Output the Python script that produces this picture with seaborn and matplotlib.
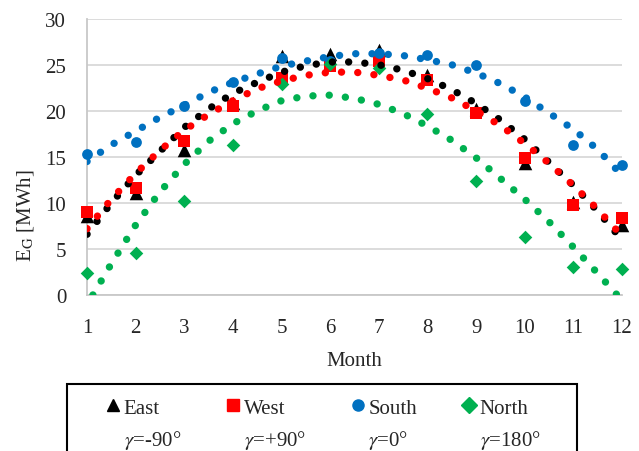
import seaborn as sns
import matplotlib.pyplot as plt
from matplotlib.lines import Line2D
from matplotlib.patches import Rectangle

# monthly values (big markers)
months = [1, 2, 3, 4, 5, 6, 7, 8, 9, 10, 11, 12]
east = [8.6, 11.1, 15.7, 20.8, 26.0, 26.2, 26.6, 23.9, 20.2, 14.3, 10.1, 7.6]
west = [9.0, 11.6, 16.7, 20.5, 23.6, 24.9, 25.4, 23.3, 19.8, 14.9, 9.8, 8.4]
south = [15.3, 16.6, 20.5, 23.1, 25.7, 25.4, 26.3, 26.1, 25.0, 21.1, 16.3, 14.1]
north = [2.4, 4.6, 10.2, 16.3, 22.9, 25.1, 24.7, 19.7, 12.4, 6.3, 3.0, 2.8]

# trend curves (dotted), read every half month
trend_x = [1, 1.5, 2, 2.5, 3, 3.5, 4, 4.5, 5, 5.5, 6, 6.5, 7, 7.5, 8, 8.5,
           9, 9.5, 10, 10.5, 11, 11.5, 12]
east_trend = [6.6, 10.0, 13.0, 15.6, 18.2, 20.2, 21.9, 23.1, 24.2, 24.9, 25.3, 25.3,
              25.0, 24.4, 23.5, 22.3, 20.8, 19.0, 16.9, 14.4, 11.9, 9.1, 6.0]
west_trend = [7.2, 10.4, 13.2, 15.7, 17.9, 19.6, 21.1, 22.4, 23.25, 23.85, 24.2, 24.2,
              23.85, 23.35, 22.45, 21.4, 20.0, 18.4, 16.45, 14.3, 11.9, 9.3, 6.4]
south_trend = [14.5, 16.3, 17.8, 19.3, 20.6, 22.0, 23.1, 24.0, 24.85, 25.4, 25.9, 26.2,
               26.2, 26.0, 25.55, 25.0, 24.1, 22.95, 21.5, 19.75, 18.0, 15.8, 13.0]
north_x = [1.12, 1.5, 2, 2.5, 3, 3.5, 4, 4.5, 5, 5.5, 6, 6.5, 7, 7.5, 8, 8.5,
           9, 9.5, 10, 10.5, 11, 11.5, 11.9]
north_trend = [0.0, 3.4, 7.6, 11.2, 14.2, 16.7, 18.6, 20.0, 21.1, 21.6, 21.7, 21.35,
               20.7, 19.7, 18.35, 16.8, 14.9, 12.65, 10.4, 7.95, 5.2, 2.35, 0.0]

names = ['East', 'West', 'South', 'North']
gammas = ['-90°', '+90°', '0°', '180°']
colors = ['black', '#FF0000', '#0070C0', '#00B050']
markers = ['^', 's', 'o', 'D']
sizes = [95, 64, 60, 48]

sns.set_theme(style='white')
plt.rcParams['font.family'] = ['Liberation Serif', 'DejaVu Serif']
plt.rcParams['mathtext.fontset'] = 'stix'

fig = plt.figure(figsize=(6.39, 4.52), dpi=100)
ax = fig.add_axes([0.1362, 0.3451, 0.8372, 0.6113])

# big markers
for yv, c, m, s in zip([east, west, south, north], colors, markers, sizes):
    sns.scatterplot(x=months, y=yv, color=c, marker=m, s=s, linewidth=0,
                    clip_on=False, zorder=3, ax=ax)

# dotted trend lines
for xv, yv, c in zip([trend_x, trend_x, trend_x, north_x],
                     [east_trend, west_trend, south_trend, north_trend], colors):
    sns.lineplot(x=xv, y=yv, color=c, linewidth=5.3, linestyle=(0, (0.01, 2.2)),
                 dash_capstyle='round', zorder=4, ax=ax)

ax.set_xlim(1, 12)
ax.set_ylim(0, 30)
ax.set_xticks(months)
ax.set_yticks([0, 5, 10, 15, 20, 25, 30])
ax.grid(axis='y', color='#D9D9D9', linewidth=1.3)
ax.set_axisbelow(True)
for side in ['top', 'right']:
    ax.spines[side].set_visible(False)
for side in ['left', 'bottom']:
    ax.spines[side].set_color('#C8C8C8')
    ax.spines[side].set_linewidth(1.3)
ax.tick_params(axis='both', length=0, labelsize=15)
ax.tick_params(axis='x', pad=16.5)
ax.tick_params(axis='y', pad=15)

ax.set_xlabel('Month', fontsize=15, labelpad=10)
ax.set_ylabel(r'E$_\mathrm{G}$ [MWh]', fontsize=15)
ax.yaxis.set_label_coords(-0.095, 0.291)

# legend frame (runs off the bottom of the figure)
fig.patches.append(Rectangle((67 / 639, -0.05), (577 - 67) / 639, 0.05 + (452 - 385) / 452,
                             transform=fig.transFigure, fill=False,
                             edgecolor='black', linewidth=1.5))

# legend: name row + gamma row
handles, labels = [], []
for n, g, c, m in zip(names, gammas, colors, markers):
    handles.append(Line2D([], [], color=c, marker=m, linestyle='none', markersize=8))
    labels.append(n)
    handles.append(Line2D([], [], linestyle='none'))
    labels.append(r'$\gamma$=' + g)

leg = fig.legend(handles, labels, ncol=4, loc='upper left',
                 bbox_to_anchor=(106 / 639, 1 - 399 / 452), fontsize=15,
                 frameon=False, handlelength=0.7, handletextpad=0.15,
                 columnspacing=2.15, borderpad=0, labelspacing=0.5,
                 borderaxespad=0)

fig.savefig('out.png', dpi=100)
